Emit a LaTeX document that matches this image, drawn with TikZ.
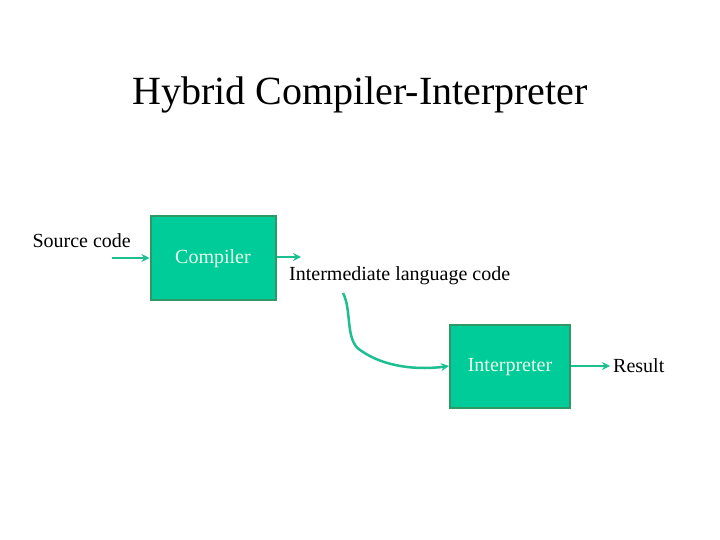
\documentclass[tikz,border=0pt]{standalone}
\usepackage{fontspec}
\setmainfont{Liberation Serif}
\usetikzlibrary{arrows.meta}
\definecolor{boxfill}{HTML}{00CC99}
\definecolor{boxline}{HTML}{2E9966}
\definecolor{arr}{HTML}{1DBF91}
\begin{document}
\begin{tikzpicture}[x=1pt,y=-1pt,
  box/.style={draw=boxline,line width=2pt,fill=boxfill,minimum width=125pt,minimum height=83pt,text=white!92!green,font=\fontsize{20}{24}\selectfont,inner sep=0pt},
  lbl/.style={font=\fontsize{20}{24}\selectfont,inner sep=0pt},
  con/.style={draw=arr,line width=2.5pt,-{Stealth[length=8pt,width=8pt]}}]
\useasboundingbox (0,0) rectangle (720,540);
\node[font=\fontsize{40}{48}\selectfont] (title) at (360,95) {Hybrid Compiler-Interpreter};
\node[box] (comp) at (213,258) {};
\node[lbl,text=white!92!green] (compt) at (213,259) {Compiler};
\node[box,minimum width=120pt] (interp) at (510,366) {};
\node[lbl,text=white!92!green] (interpt) at (510,367) {Interpreter};
\node[lbl,anchor=east] (src) at (131,241) {Source code};
\node[lbl,anchor=west] (il) at (289,276) {Intermediate language code};
\node[lbl,anchor=west] (res) at (613,366) {Result};
\coordinate (s0) at (112,258);
\coordinate (c1) at (301,257);
\coordinate (i0) at (343,293);
\coordinate (r1) at (610,366);
\draw[con] (s0) -- (comp.west);
\draw[con] (comp.east |- c1) -- (c1);
\draw[con] (i0) .. controls (352,310) and (345,340) .. (360,350) .. controls (385,368) and (420,370) .. (interp.west);
\draw[con] (interp.east) -- (r1);
\end{tikzpicture}
\end{document}
